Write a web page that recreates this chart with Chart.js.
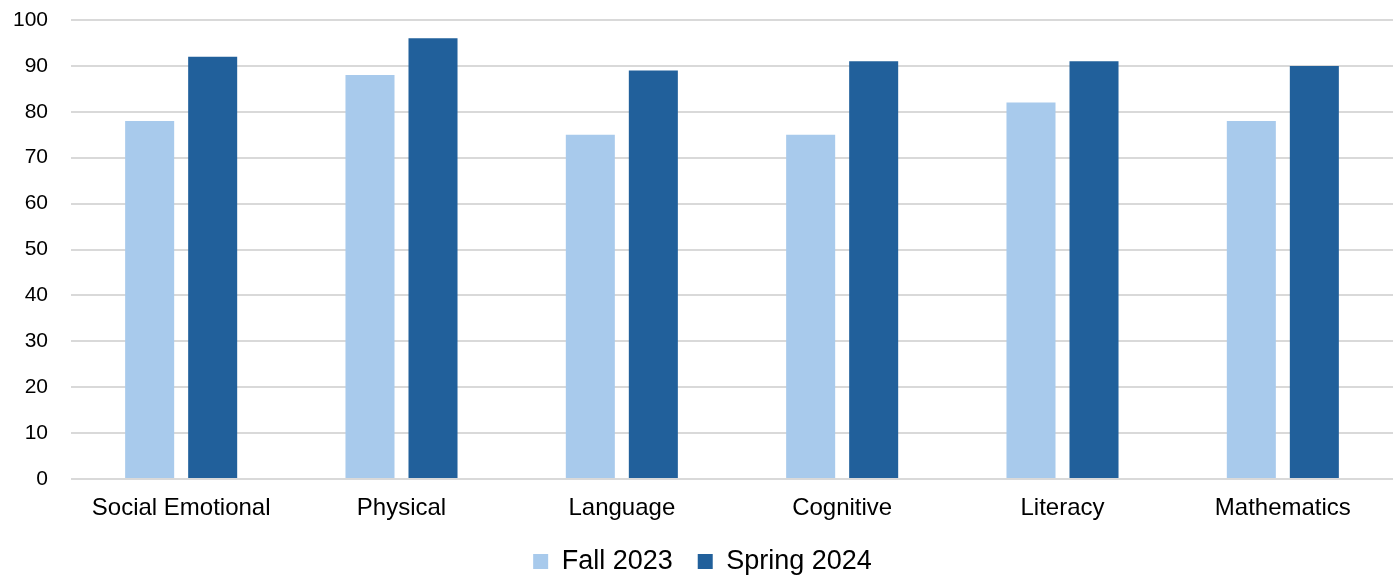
<!DOCTYPE html>
<html>
<head>
<meta charset="utf-8">
<script src="https://cdn.jsdelivr.net/npm/chart.js@4"></script>
<style>
  html, body { margin: 0; padding: 0; background: #fff; }
  #wrap { width: 1399px; height: 575px; position: relative; }
</style>
</head>
<body>
<div id="wrap"><canvas id="chart"></canvas></div>
<script>
const categories = ['Social Emotional', 'Physical', 'Language', 'Cognitive', 'Literacy', 'Mathematics'];
const fall2023 = [78, 88, 75, 75, 82, 78];
const spring2024 = [92, 96, 89, 91, 91, 90];

// pull the legend a bit lower, closer to the bottom edge
const legendShift = {
  id: 'legendShift',
  beforeInit(chart) {
    const fit = chart.legend.fit;
    chart.legend.fit = function () {
      fit.call(this);
      this.height -= 10;
    };
  }
};

const ctx = document.getElementById('chart').getContext('2d');
new Chart(ctx, {
  type: 'bar',
  data: {
    labels: categories,
    datasets: [
      { label: 'Fall 2023', data: fall2023, backgroundColor: '#a8caec' },
      { label: 'Spring 2024', data: spring2024, backgroundColor: '#21609b' }
    ]
  },
  options: {
    responsive: true,
    maintainAspectRatio: false,
    animation: false,
    categoryPercentage: 0.572,
    barPercentage: 0.778,
    layout: { padding: { left: 12, right: 6, top: 20, bottom: 0 } },
    plugins: {
      tooltip: { enabled: false },
      legend: {
        position: 'bottom',
        labels: {
          font: { family: 'Liberation Sans', size: 27 },
          color: '#000',
          boxWidth: 15,
          boxHeight: 15,
          padding: 25
        }
      }
    },
    scales: {
      x: {
        grid: { display: false, drawTicks: false },
        border: { display: false },
        ticks: { font: { family: 'Liberation Sans', size: 24 }, color: '#000', padding: 15 },
        afterFit: (scale) => {
          scale.height = 44;
          scale.paddingLeft = 0;
          scale.paddingRight = 0;
        }
      },
      y: {
        min: 0,
        max: 100,
        ticks: { stepSize: 10, font: { family: 'Liberation Sans', size: 21 }, color: '#000', padding: 23 },
        grid: { color: '#d9d9d9', lineWidth: 2, drawTicks: false },
        border: { display: false },
        afterFit: (scale) => {
          scale.width = 59;
          scale.paddingTop = 0;
          scale.paddingBottom = 0;
        }
      }
    }
  },
  plugins: [legendShift]
});
</script>
</body>
</html>
